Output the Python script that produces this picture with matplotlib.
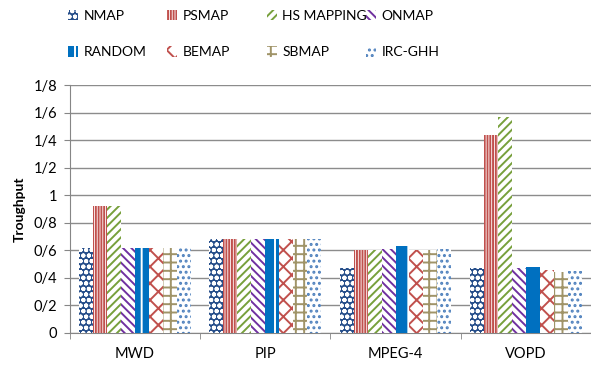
import matplotlib.pyplot as plt
import numpy as np

plt.rcParams['font.family'] = ['Lato', 'DejaVu Sans']
plt.rcParams['hatch.linewidth'] = 1.4

benchmarks = ['MWD', 'PIP', 'MPEG-4', 'VOPD']
methods = ['NMAP', 'PSMAP', 'HS MAPPING', 'ONMAP', 'RANDOM', 'BEMAP', 'SBMAP', 'IRC-GHH']
throughput = {
    'NMAP':       [0.62, 0.68, 0.47, 0.47],
    'PSMAP':      [0.92, 0.68, 0.60, 1.44],
    'HS MAPPING': [0.92, 0.68, 0.60, 1.57],
    'ONMAP':      [0.62, 0.68, 0.61, 0.47],
    'RANDOM':     [0.62, 0.68, 0.63, 0.48],
    'BEMAP':      [0.62, 0.68, 0.60, 0.46],
    'SBMAP':      [0.62, 0.68, 0.60, 0.44],
    'IRC-GHH':    [0.62, 0.68, 0.61, 0.45],
}
yticks = [0, 0.2, 0.4, 0.6, 0.8, 1.0, 1.2, 1.4, 1.6, 1.8]
ytick_labels = ['0', '0/2', '0/4', '0/6', '0/8', '1', '1/2', '1/4', '1/6', '1/8']

# face colour, hatch colour, hatch pattern
styles = {
    'NMAP':       ('#264E8A', 'white', 'ooo'),
    'PSMAP':      ('white', '#C0504D', '||||||'),
    'HS MAPPING': ('white', '#77A03C', '////'),
    'ONMAP':      ('white', '#7030A0', '\\\\\\\\'),
    'RANDOM':     ('#0070C0', 'white', '|'),
    'BEMAP':      ('white', '#C0504D', 'xx'),
    'SBMAP':      ('white', '#A09468', '++'),
    'IRC-GHH':    ('white', '#4F81BD', '...'),
}

fig = plt.figure(figsize=(5.91, 3.70), dpi=100)
ax = fig.add_axes([0.118, 0.1, 0.882, 0.670])

x = np.arange(len(benchmarks))
width = 0.107
handles = {}
for i, m in enumerate(methods):
    face, hcol, hatch = styles[m]
    offs = (i - (len(methods) - 1) / 2) * width
    bars = ax.bar(x + offs, throughput[m], width, color=face, edgecolor=hcol,
                  hatch=hatch, linewidth=0, label=m, zorder=3)
    handles[m] = bars

ax.set_xlim(-0.5, len(benchmarks) - 0.5)
ax.set_ylim(0, 1.8)
ax.set_yticks(yticks)
ax.set_yticklabels(ytick_labels, fontsize=10.5)
ax.set_xticks(x)
ax.set_xticklabels(benchmarks, fontsize=10.5)
ax.set_xticks(np.arange(len(benchmarks) + 1) - 0.5, minor=True)
ax.tick_params(axis='x', which='major', length=0, pad=10)
ax.tick_params(axis='x', which='minor', length=4, color='#868686')
ax.tick_params(axis='y', length=4, color='#868686', pad=5)
ax.grid(axis='y', color='#8C8C8C', linewidth=1, zorder=0)
for s in ['top', 'right']:
    ax.spines[s].set_visible(False)
for s in ['left', 'bottom']:
    ax.spines[s].set_color('#868686')
ax.set_ylabel('Troughput', fontsize=10, fontweight='bold', labelpad=6)

# legend laid out as an even 4x2 grid: one small legend per column
columns = [['NMAP', 'RANDOM'], ['PSMAP', 'BEMAP'],
           ['HS MAPPING', 'SBMAP'], ['ONMAP', 'IRC-GHH']]
col_x = [68, 167, 267, 366]
for names, px in zip(columns, col_x):
    fig.legend([handles[m] for m in names], names, frameon=False,
               loc='upper left', bbox_to_anchor=(px / 591, 1 - 10 / 370),
               borderpad=0, borderaxespad=0, fontsize=10,
               handlelength=0.75, handleheight=0.75, handletextpad=0.35,
               labelspacing=1.75)

fig.savefig('out.png', dpi=100)
